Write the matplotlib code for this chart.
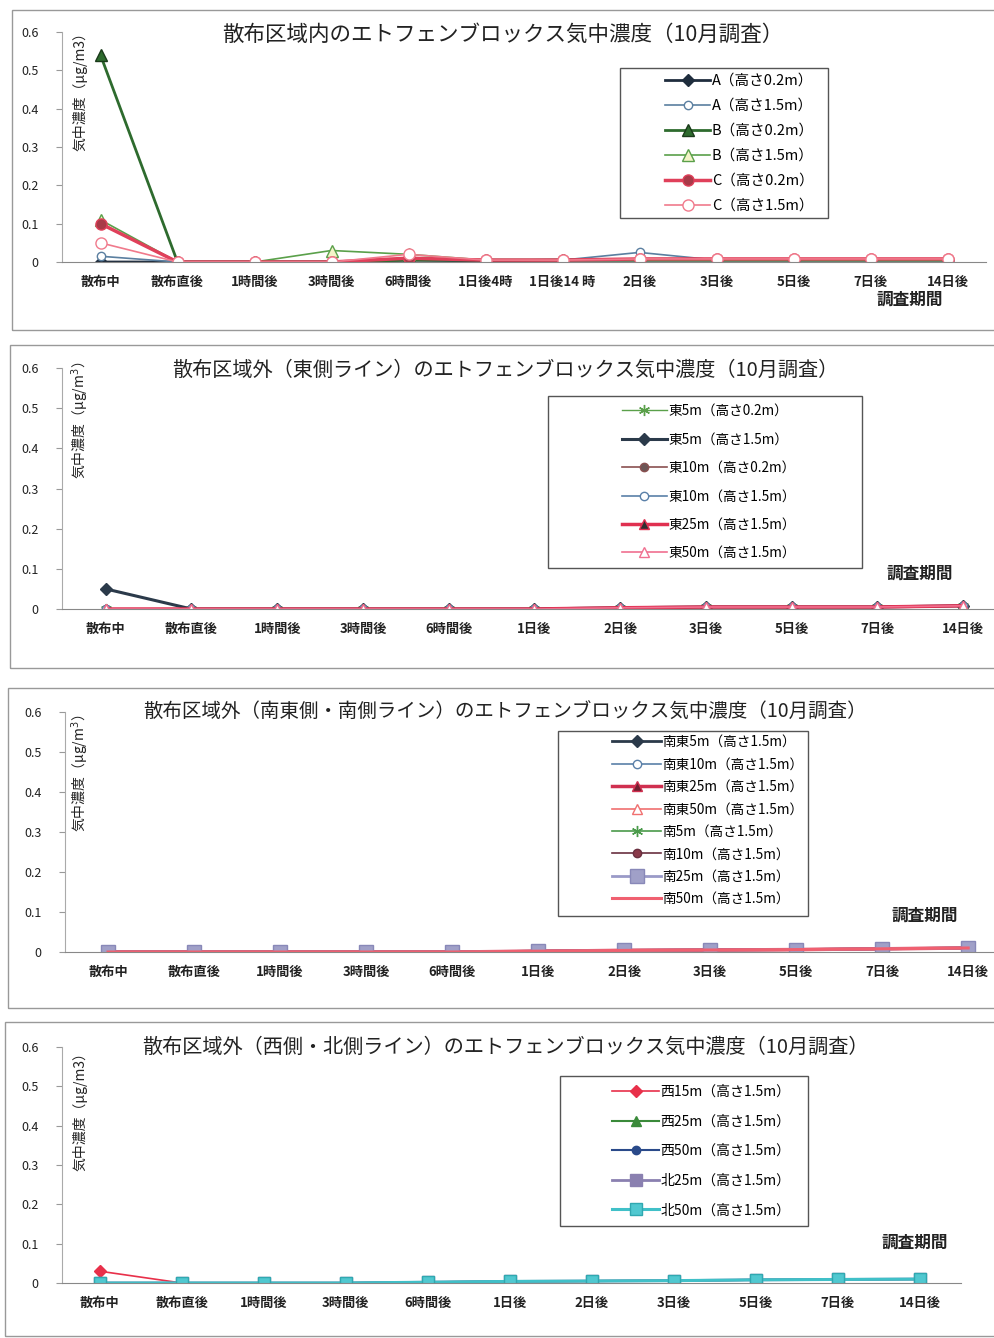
import matplotlib
matplotlib.use("Agg")
import matplotlib.pyplot as plt
from matplotlib.patches import Rectangle

plt.rcParams['font.family'] = ['Noto Sans CJK JP', 'DejaVu Sans']

W, H = 994, 1338

# ---------------- data ----------------
cats1 = ['散布中', '散布直後', '1時間後', '3時間後', '6時間後', '1日後4時', '1日後14 時',
         '2日後', '3日後', '5日後', '7日後', '14日後']
cats = ['散布中', '散布直後', '1時間後', '3時間後', '6時間後', '1日後', '2日後',
        '3日後', '5日後', '7日後', '14日後']

# panel 1 : 散布区域内
a02 = [0.0, 0.0, 0.0, 0.0, 0.005, 0.003, 0.005, 0.005, 0.005, 0.005, 0.005, 0.005]
a15 = [0.015, 0.0, 0.0, 0.0, 0.005, 0.005, 0.005, 0.025, 0.005, 0.005, 0.005, 0.005]
b02 = [0.54, 0.0, 0.0, 0.0, 0.005, 0.005, 0.005, 0.005, 0.005, 0.005, 0.005, 0.005]
b15 = [0.11, 0.0, 0.0, 0.03, 0.02, 0.005, 0.005, 0.005, 0.005, 0.005, 0.005, 0.005]
c02 = [0.10, 0.0, 0.0, 0.0, 0.01, 0.005, 0.005, 0.008, 0.008, 0.008, 0.008, 0.008]
c15 = [0.05, 0.0, 0.0, 0.0, 0.02, 0.005, 0.005, 0.008, 0.008, 0.008, 0.008, 0.008]

# panel 2 : 東側ライン
e5_02 = [0.0, 0.0, 0.0, 0.0, 0.0, 0.0, 0.003, 0.005, 0.005, 0.005, 0.008]
e5_15 = [0.05, 0.0, 0.0, 0.0, 0.0, 0.0, 0.003, 0.005, 0.005, 0.005, 0.008]
e10_02 = [0.0, 0.0, 0.0, 0.0, 0.0, 0.0, 0.003, 0.005, 0.005, 0.005, 0.008]
e10_15 = [0.0, 0.0, 0.0, 0.0, 0.0, 0.0, 0.003, 0.005, 0.005, 0.005, 0.008]
e25_15 = [0.0, 0.0, 0.0, 0.0, 0.0, 0.0, 0.003, 0.005, 0.005, 0.005, 0.008]
e50_15 = [0.0, 0.0, 0.0, 0.0, 0.0, 0.0, 0.003, 0.005, 0.005, 0.005, 0.008]

# panel 3 : 南東側・南側ライン
se5 = [0.0, 0.0, 0.0, 0.0, 0.0, 0.002, 0.004, 0.005, 0.006, 0.008, 0.01]
se10 = [0.0, 0.0, 0.0, 0.0, 0.0, 0.002, 0.004, 0.005, 0.006, 0.008, 0.01]
se25 = [0.0, 0.0, 0.0, 0.0, 0.0, 0.002, 0.004, 0.005, 0.006, 0.008, 0.01]
se50 = [0.0, 0.0, 0.0, 0.0, 0.0, 0.002, 0.004, 0.005, 0.006, 0.008, 0.01]
s5 = [0.0, 0.0, 0.0, 0.0, 0.0, 0.002, 0.004, 0.005, 0.006, 0.008, 0.01]
s10 = [0.0, 0.0, 0.0, 0.0, 0.0, 0.002, 0.004, 0.005, 0.006, 0.008, 0.01]
s25 = [0.0, 0.0, 0.0, 0.0, 0.0, 0.002, 0.004, 0.005, 0.006, 0.008, 0.01]
s50 = [0.0, 0.0, 0.0, 0.0, 0.0, 0.002, 0.004, 0.005, 0.006, 0.008, 0.01]

# panel 4 : 西側・北側ライン
w15 = [0.03, 0.0, 0.0, 0.0, 0.002, 0.004, 0.005, 0.006, 0.008, 0.009, 0.01]
w25 = [0.0, 0.0, 0.0, 0.0, 0.002, 0.004, 0.005, 0.006, 0.008, 0.009, 0.01]
w50 = [0.0, 0.0, 0.0, 0.0, 0.002, 0.004, 0.005, 0.006, 0.008, 0.009, 0.01]
n25 = [0.0, 0.0, 0.0, 0.0, 0.002, 0.004, 0.005, 0.006, 0.008, 0.009, 0.01]
n50 = [0.0, 0.0, 0.0, 0.0, 0.002, 0.004, 0.005, 0.006, 0.008, 0.009, 0.01]

yticks = [0, 0.1, 0.2, 0.3, 0.4, 0.5, 0.6]
ytick_labels = ['0', '0.1', '0.2', '0.3', '0.4', '0.5', '0.6']

ASTER = (6, 2, 0)
TXT = '#222'

fig = plt.figure(figsize=(W / 100, H / 100), dpi=100)


def fx(px):
    return px / W


def fy(py):
    return 1 - py / H


def make_ax(left, right, top, bottom):
    return fig.add_axes([fx(left), fy(bottom), fx(right) - fx(left), fy(top) - fy(bottom)])


def style_ax(ax, labels, xlim, ylab, ylab_top):
    ax.set_xlim(*xlim)
    ax.set_ylim(0, 0.6)
    ax.set_xticks(range(len(labels)))
    ax.set_xticklabels(labels, fontsize=9.5, fontweight='bold', color=TXT)
    ax.set_yticks(yticks)
    ax.set_yticklabels(ytick_labels, fontsize=9, color=TXT)
    ax.tick_params(axis='x', length=0, pad=9)
    ax.tick_params(axis='y', length=4, pad=13, color='#999')
    for s in ['top', 'right']:
        ax.spines[s].set_visible(False)
    ax.spines['left'].set_color('#aaa')
    ax.spines['bottom'].set_color('#888')
    ax.patch.set_alpha(0)
    fig.text(fx(80), fy(ylab_top), ylab, rotation=90, ha='center', va='top',
             fontsize=10, color=TXT)


def title(text, cx, cy, fs=14.5):
    fig.text(fx(cx), fy(cy), text, fontsize=fs, ha='center', va='center', color=TXT)


def frame(x0, y0, x1, y1, color='#999'):
    fig.add_artist(Rectangle((fx(x0), fy(y1)), fx(x1) - fx(x0), fy(y0) - fy(y1),
                             transform=fig.transFigure, fill=False,
                             edgecolor=color, lw=1))


def legend(ax, box, hx, top, fs, spacing, hl):
    frame(*box, color='#555')
    ax.legend(loc='upper left', bbox_to_anchor=(fx(hx), fy(top)),
              bbox_transform=fig.transFigure, fontsize=fs, frameon=False,
              handlelength=hl, labelspacing=spacing, borderpad=0,
              handletextpad=0.1, borderaxespad=0)


def period(cx, cy):
    fig.text(fx(cx), fy(cy), '調査期間', fontsize=12, fontweight='bold',
             ha='center', va='center', color=TXT)


# frames around each panel
frame(12, 10, 1000, 330)
frame(10, 345, 1000, 668)
frame(8, 688, 1000, 1008)
frame(5, 1022, 1000, 1336)

# ---------------- panel 1 ----------------
ax1 = make_ax(62, 986, 32, 262)
x1 = range(len(cats1))
ax1.plot(x1, a02, color='#1f2d3d', lw=2, marker='D', ms=6, mfc='#1f2d3d', label='A（高さ0.2m）')
ax1.plot(x1, a15, color='#5a7fa0', lw=1.2, marker='o', ms=6, mfc='white', label='A（高さ1.5m）')
ax1.plot(x1, b02, color='#2e6b2e', lw=2, marker='^', ms=9, mfc='#2e6b2e', mec='#1a3a1a', label='B（高さ0.2m）')
ax1.plot(x1, b15, color='#5aa04a', lw=1.2, marker='^', ms=8, mfc='#f4f4c8', label='B（高さ1.5m）')
ax1.plot(x1, c02, color='#e0405a', lw=2.5, marker='o', ms=8, mfc='#a83a48', mec='#e0405a', label='C（高さ0.2m）')
ax1.plot(x1, c15, color='#f07a8c', lw=1.2, marker='o', ms=8, mfc='white', label='C（高さ1.5m）')
style_ax(ax1, cats1, (-0.5, 11.5), '気中濃度（μg/m3）', 25)
title('散布区域内のエトフェンブロックス気中濃度（10月調査）', 503, 35, fs=15.5)
legend(ax1, (620, 68, 828, 218), 665, 74, 10.5, 0.75, 3.1)
period(910, 300)

# ---------------- panel 2 ----------------
ax2 = make_ax(62, 994, 368, 609)
x2 = range(len(cats))
ax2.plot(x2, e5_02, color='#5aa04a', lw=1, marker=ASTER, ms=8, label='東5m（高さ0.2m）')
ax2.plot(x2, e5_15, color='#2b3a4a', lw=2.2, marker='D', ms=6, label='東5m（高さ1.5m）')
ax2.plot(x2, e10_02, color='#8a5050', lw=1.2, marker='o', ms=6, mfc='#6b5555', label='東10m（高さ0.2m）')
ax2.plot(x2, e10_15, color='#5a80a8', lw=1.2, marker='o', ms=6, mfc='white', label='東10m（高さ1.5m）')
ax2.plot(x2, e25_15, color='#e03050', lw=2.5, marker='^', ms=7, mfc='#303030', mec='#e03050', label='東25m（高さ1.5m）')
ax2.plot(x2, e50_15, color='#f07090', lw=1.2, marker='^', ms=7, mfc='white', label='東50m（高さ1.5m）')
style_ax(ax2, cats, (-0.51, 10.36), '気中濃度（μg/m$^3$）', 362)
title('散布区域外（東側ライン）のエトフェンブロックス気中濃度（10月調査）', 505, 370)
legend(ax2, (548, 396, 862, 568), 622, 404, 9.8, 1.06, 3.3)
period(920, 574)

# ---------------- panel 3 ----------------
ax3 = make_ax(65, 994, 712, 952)
ax3.plot(x2, se5, color='#2b3a4a', lw=2, marker='D', ms=6, label='南東5m（高さ1.5m）')
ax3.plot(x2, se10, color='#5a80a8', lw=1.2, marker='o', ms=6, mfc='white', label='南東10m（高さ1.5m）')
ax3.plot(x2, se25, color='#d03050', lw=2.5, marker='^', ms=7, mfc='#702030', label='南東25m（高さ1.5m）')
ax3.plot(x2, se50, color='#f07070', lw=1.2, marker='^', ms=7, mfc='white', label='南東50m（高さ1.5m）')
ax3.plot(x2, s5, color='#4a9a4a', lw=1.2, marker=ASTER, ms=8, label='南5m（高さ1.5m）')
ax3.plot(x2, s10, color='#6a3040', lw=1.2, marker='o', ms=6, mfc='#8a3a4a', label='南10m（高さ1.5m）')
ax3.plot(x2, s25, color='#9a9ac8', lw=2, marker='s', ms=10, mfc='#a0a0c8', mec='#8888b8', label='南25m（高さ1.5m）')
ax3.plot(x2, s50, color='#f06070', lw=2.2, label='南50m（高さ1.5m）')
style_ax(ax3, cats, (-0.5, 10.3), '気中濃度（μg/m$^3$）', 715)
title('散布区域外（南東側・南側ライン）のエトフェンブロックス気中濃度（10月調査）', 505, 712, fs=14)
legend(ax3, (558, 731, 808, 916), 612, 735, 9.8, 0.62, 3.6)
period(925, 916)

# ---------------- panel 4 ----------------
ax4 = make_ax(62, 961, 1047, 1283)
ax4.plot(x2, w15, color='#e8304a', lw=1.2, marker='D', ms=6, label='西15m（高さ1.5m）')
ax4.plot(x2, w25, color='#3a8a3a', lw=1.5, marker='^', ms=7, label='西25m（高さ1.5m）')
ax4.plot(x2, w50, color='#2a4a8a', lw=1.5, marker='o', ms=6, label='西50m（高さ1.5m）')
ax4.plot(x2, n25, color='#8a80b0', lw=2, marker='s', ms=8, label='北25m（高さ1.5m）')
ax4.plot(x2, n50, color='#40c0c8', lw=2.2, marker='s', ms=9, mfc='#50c8d0', mec='#30a8b0', label='北50m（高さ1.5m）')
style_ax(ax4, cats, (-0.46, 10.5), '気中濃度（μg/m3）', 1045)
title('散布区域外（西側・北側ライン）のエトフェンブロックス気中濃度（10月調査）', 505, 1047)
legend(ax4, (560, 1076, 808, 1226), 612, 1085, 10, 1.12, 3.4)
period(915, 1243)

fig.savefig('out.png', dpi=100)
